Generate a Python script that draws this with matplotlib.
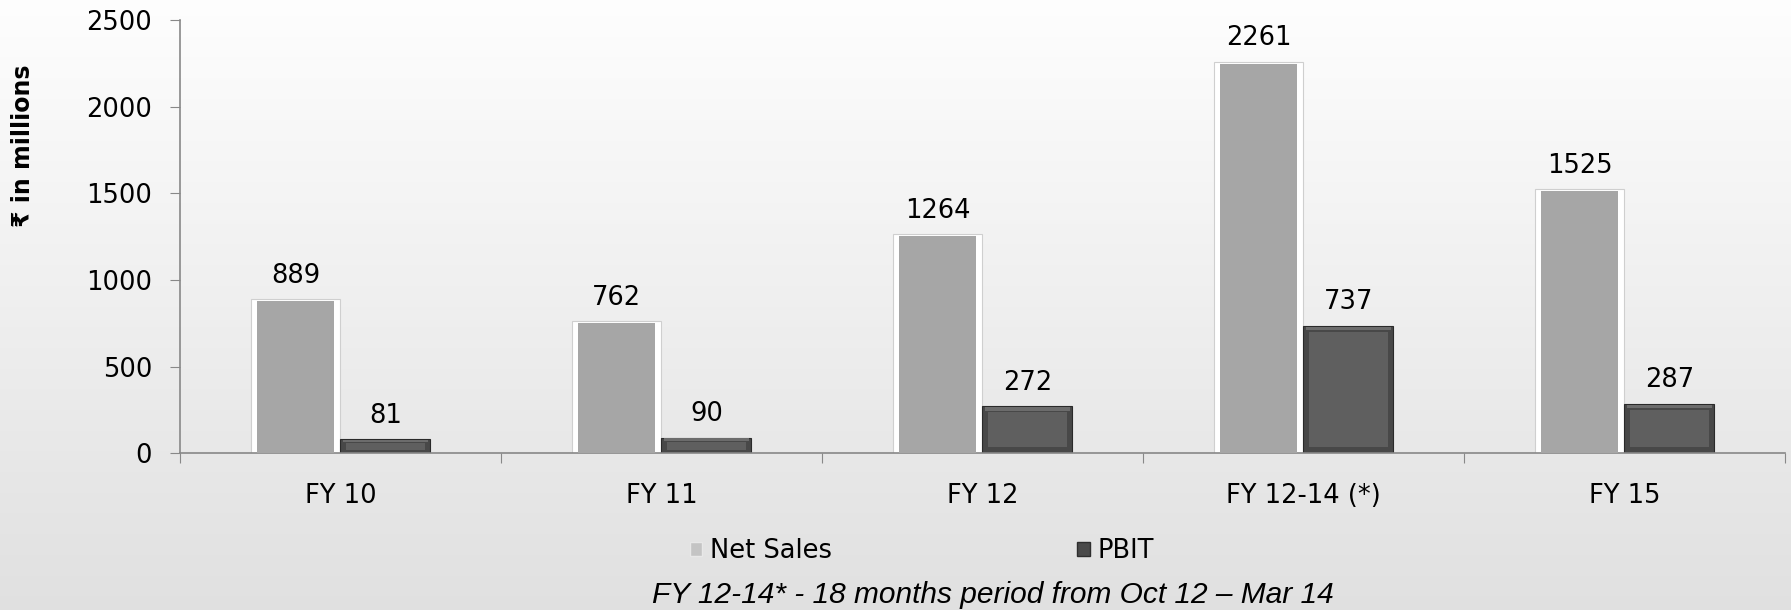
import matplotlib
matplotlib.use("Agg")
import matplotlib.pyplot as plt
from matplotlib.patches import Patch
import numpy as np

categories = ["FY 10", "FY 11", "FY 12", "FY 12-14 (*)", "FY 15"]
net_sales = [889, 762, 1264, 2261, 1525]
pbit = [81, 90, 272, 737, 287]

fig = plt.figure(figsize=(17.91, 6.10), dpi=100)

# background gradient
bg = fig.add_axes([0, 0, 1, 1], zorder=-10)
grad = np.linspace(1.0, 0.0, 256).reshape(-1, 1)
top = np.array([0.995, 0.995, 0.995])
bot = np.array([0.88, 0.88, 0.88])
img = bot + (top - bot) * grad[..., None]
bg.imshow(img, aspect="auto", extent=[0, 1, 0, 1])
bg.axis("off")

ax = fig.add_axes([0.1005, 0.2566, 0.8961, 0.7104])
ax.patch.set_alpha(0)

x = np.arange(len(categories))
w = 0.28
fs = 18.5

ns = np.array(net_sales)
pb = np.array(pbit)

# Net Sales: white bevel edges with grey face
ax.bar(x - w / 2, ns, w, color="white", edgecolor="#cfcfcf", linewidth=0.8, zorder=2)
ax.bar(x - w / 2, ns - 16, w * 0.85, bottom=4, color="#a6a6a6", zorder=3)

# PBIT: dark frame, lighter top bevel, flat face inside
inset = np.minimum(35, pb * 0.25)
ax.bar(x + w / 2, pb, w, color="#484848", edgecolor="#2a2a2a", linewidth=0.8, zorder=2)
ax.bar(x + w / 2, inset * 0.6, w * 0.95, bottom=pb - inset * 0.75, color="#6c6c6c", zorder=3)
ax.bar(x + w / 2, pb - 2 * inset, w * 0.88, bottom=inset, color="#5f5f5f", zorder=4)

for i in range(len(x)):
    ax.annotate(str(net_sales[i]), (x[i] - w / 2, net_sales[i]), xytext=(0, 17),
                textcoords="offset points", ha="center", va="center", fontsize=fs)
    ax.annotate(str(pbit[i]), (x[i] + w / 2, pbit[i]), xytext=(0, 17),
                textcoords="offset points", ha="center", va="center", fontsize=fs)

ax.set_xlim(-0.5, 4.5)
ax.set_ylim(0, 2500)
ax.set_yticks([0, 500, 1000, 1500, 2000, 2500])
ax.tick_params(axis="y", labelsize=fs, length=7, color="#888888", pad=13)

ax.set_xticks(np.arange(-0.5, 5.0, 1.0))
ax.set_xticklabels([])
ax.set_xticks(x, minor=True)
ax.set_xticklabels(categories, minor=True, fontsize=fs)
ax.tick_params(axis="x", which="major", length=7, color="#888888")
ax.tick_params(axis="x", which="minor", length=0, pad=21)

for s in ["top", "right"]:
    ax.spines[s].set_visible(False)
for s in ["left", "bottom"]:
    ax.spines[s].set_color("#888888")
    ax.spines[s].set_linewidth(1.2)

fig.text(0.0128, 0.761, "\u20b9 in millions", rotation=90, ha="center", va="center",
         fontsize=17, fontweight="bold")

# legend
handles = [Patch(facecolor="#c4c4c4", edgecolor="#e8e8e8", label="Net Sales"),
           Patch(facecolor="#4a4a4a", edgecolor="#2e2e2e", label="PBIT")]
fig.legend(handles=handles, loc="center", bbox_to_anchor=(922 / 1791, 1 - 551 / 610),
           ncol=2, frameon=False, fontsize=fs, handlelength=0.5, handleheight=0.5,
           handletextpad=0.3, columnspacing=9.55)

fig.text(993 / 1791, 1 - 595 / 610, "FY 12-14* - 18 months period from Oct 12 \u2013 Mar 14",
         ha="center", va="center", fontsize=21.5, style="italic", family="Liberation Sans")

fig.savefig("out.png", dpi=100)
